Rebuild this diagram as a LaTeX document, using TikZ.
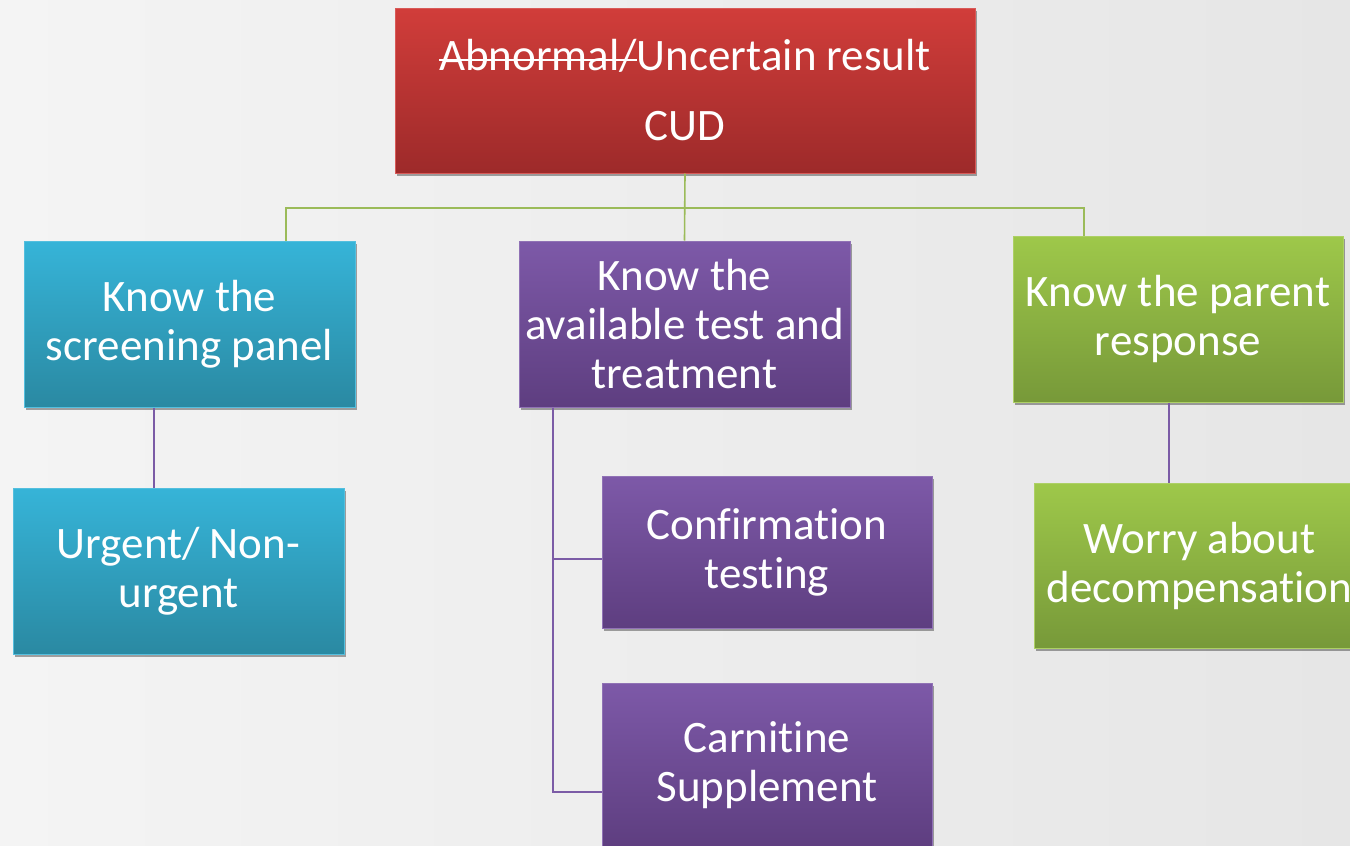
\documentclass[tikz,border=0pt]{standalone}
\usepackage{fontspec}
\setmainfont[Ligatures=NoCommon]{Carlito}
\newcommand{\mystrike}[1]{\setbox0\hbox{#1}\rlap{\rule[0.22em]{\wd0}{1.8pt}}\box0}
\usetikzlibrary{shadows}
\definecolor{bgl}{HTML}{F4F4F4}
\definecolor{bgr}{HTML}{E6E6E6}
\definecolor{rtop}{HTML}{D13D3A}
\definecolor{rbot}{HTML}{9D2A2A}
\definecolor{btop}{HTML}{36B4D8}
\definecolor{bbot}{HTML}{2A89A2}
\definecolor{ptop}{HTML}{7D59A8}
\definecolor{pbot}{HTML}{5E3E80}
\definecolor{gtop}{HTML}{9EC84A}
\definecolor{gbot}{HTML}{779939}
\definecolor{gline}{HTML}{9BBB59}
\definecolor{pline}{HTML}{7B5BA6}
\begin{document}
\begin{tikzpicture}[x=1pt,y=-1pt,
  box/.style={rectangle, text=white, align=center, inner sep=0pt, line width=1pt,
    font=\fontsize{45}{49}\selectfont,
    drop shadow={shadow xshift=2pt, shadow yshift=-3pt, opacity=0.35, fill=black}},
  redbox/.style={box, top color=rtop, bottom color=rbot, draw=rtop!85!white},
  bluebox/.style={box, top color=btop, bottom color=bbot, draw=btop!85!white},
  purbox/.style={box, top color=ptop, bottom color=pbot, draw=ptop!85!white},
  grebox/.style={box, top color=gtop, bottom color=gbot, draw=gtop!85!white},
  glink/.style={draw=gline, line width=1.6pt},
  plink/.style={draw=pline, line width=1.6pt}]
\path[use as bounding box, left color=bgl, right color=bgr] (0,0) rectangle (1350,846);
\clip (0,0) rectangle (1350,846);

\node[redbox, minimum width=580pt, minimum height=165pt] (red) at (685,90.5)
  {\mystrike{Abnormal/}Uncertain result\\[21pt]CUD};
\node[bluebox, minimum width=331pt, minimum height=166pt] (blueA) at (189.5,324)
  {Know the\\screening panel};
\node[bluebox, minimum width=331pt, minimum height=166pt] (blueB) at (178.5,571)
  {Urgent/ Non-\\urgent};
\node[purbox, minimum width=331pt, minimum height=166pt] (purA) at (684.5,324)
  {Know the\\available test and\\treatment};
\node[purbox, minimum width=330pt, minimum height=152pt] (purB) at (767,552)
  {Confirmation\\testing};
\node[purbox, minimum width=330pt, minimum height=164pt] (purC) at (767,765)
  {Carnitine\\Supplement};
\node[grebox, minimum width=330pt, minimum height=166pt] (greA) at (1178,319)
  {Know the parent\\response};
\node[grebox, minimum width=331pt, minimum height=165pt] (greB) at (1199.5,565.5)
  {Worry about\\decompensation};

\coordinate (jl) at (286,208);
\coordinate (jm) at (685,208);
\coordinate (jr) at (1084,208);
\draw[glink] (red.south) -- (purA.north);
\draw[glink] (jl |- blueA.north) -- (jl) -- (jr) -- (jr |- greA.north);

\coordinate (cl) at (154,450);
\draw[plink] (cl |- blueA.south) -- (cl |- blueB.north);
\coordinate (cr) at (1169,440);
\draw[plink] (cr |- greA.south) -- (cr |- greB.north);

\coordinate (h1) at (553,559);
\coordinate (h2) at (553,792);
\draw[plink] (h2 |- purA.south) -- (h2) -- (h2 -| purC.west);
\draw[plink] (h1) -- (h1 -| purB.west);
\end{tikzpicture}
\end{document}
